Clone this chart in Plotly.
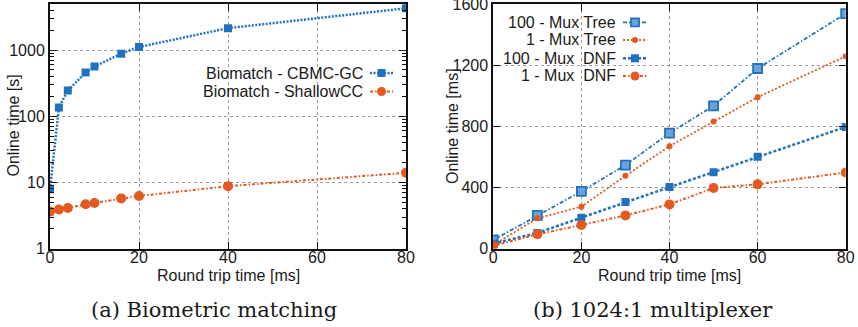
import plotly.graph_objects as go

# ---------------- data ----------------
bio_rtt = [0, 2, 4, 8, 10, 16, 20, 40, 80]
bio_cbmc = [7.9, 136, 245, 457, 562, 880, 1110, 2140, 4270]
bio_shallow = [3.63, 3.9, 4.12, 4.68, 4.9, 5.75, 6.25, 8.8, 14.0]

mux_rtt = [0, 10, 20, 30, 40, 50, 60, 80]
mux_tree_100 = [57, 218, 375, 547, 756, 935, 1179, 1538]
mux_tree_1 = [25, 199, 275, 477, 671, 833, 991, 1259]
mux_dnf_100 = [33, 103, 203, 305, 403, 501, 601, 797]
mux_dnf_1 = [20, 94, 155, 218, 290, 397, 421, 499]

left_xticks = [0, 20, 40, 60, 80]
left_yticks = [1, 10, 100, 1000]
right_xticks = [0, 20, 40, 60, 80]
right_yticks = [0, 400, 800, 1200, 1600]

BLUE = "#2171c1"
ORANGE = "#e3591f"
W, H = 858, 327
FONT = "Liberation Sans"
TXT = "#1a1a1a"

def px(x):
    return x / W

def py(y):
    return 1 - y / H

minor_log = [m * d for d in (1, 10, 100, 1000) for m in range(2, 10) if m * d < 5000]

fig = go.Figure()

# left panel
fig.add_trace(go.Scatter(x=bio_rtt, y=bio_cbmc, xaxis="x", yaxis="y", mode="lines+markers",
                         line=dict(color=BLUE, width=2.5, dash="2px,1.5px"),
                         marker=dict(symbol="square", size=8, color=BLUE), showlegend=False))
fig.add_trace(go.Scatter(x=bio_rtt, y=bio_shallow, xaxis="x", yaxis="y", mode="lines+markers",
                         line=dict(color=ORANGE, width=2, dash="3px,2px,1.5px,2px"),
                         marker=dict(symbol="circle", size=10, color=ORANGE), showlegend=False))

# right panel
fig.add_trace(go.Scatter(x=mux_rtt, y=mux_tree_100, xaxis="x2", yaxis="y2", mode="lines+markers",
                         line=dict(color=BLUE, width=1.8, dash="4px,2px,1.5px,2px"),
                         marker=dict(symbol="square", size=9, color="#6aa2da", line=dict(color=BLUE, width=1.8)),
                         showlegend=False))
fig.add_trace(go.Scatter(x=mux_rtt, y=mux_tree_1, xaxis="x2", yaxis="y2", mode="lines+markers",
                         line=dict(color=ORANGE, width=1.8, dash="2px,2px"),
                         marker=dict(symbol="circle", size=6, color=ORANGE), showlegend=False))
fig.add_trace(go.Scatter(x=mux_rtt, y=mux_dnf_100, xaxis="x2", yaxis="y2", mode="lines+markers",
                         line=dict(color=BLUE, width=2.5, dash="3px,2px"),
                         marker=dict(symbol="square", size=8, color=BLUE), showlegend=False))
fig.add_trace(go.Scatter(x=mux_rtt, y=mux_dnf_1, xaxis="x2", yaxis="y2", mode="lines+markers",
                         line=dict(color=ORANGE, width=2, dash="3px,2px,1.5px,2px"),
                         marker=dict(symbol="circle", size=10, color=ORANGE), showlegend=False))

grid = dict(showgrid=True, gridcolor="#9a9a9a", gridwidth=1, griddash="dot")
axcommon = dict(showline=True, linecolor="#111", linewidth=2, mirror="allticks",
                ticks="inside", ticklen=7, tickwidth=1, tickcolor="#111", automargin=False,
                ticklabeloverflow="allow",
                tickfont=dict(family=FONT, size=16, color=TXT), zeroline=False, **grid)

fig.update_layout(
    width=W, height=H, margin=dict(l=0, r=0, t=0, b=0, autoexpand=False),
    plot_bgcolor="white", paper_bgcolor="white",
    xaxis=dict(domain=[px(50), px(406)], range=[0, 80], tickvals=left_xticks, anchor="y",
               ticklabelstandoff=-7, **axcommon),
    yaxis=dict(domain=[py(248.7), py(4)], type="log", range=[0, 3.695], tickvals=left_yticks,
               anchor="x", minor=dict(tickmode="array", tickvals=minor_log, ticks="inside", ticklen=4,
                                      tickcolor="#111", showgrid=False),
               **axcommon),
    xaxis2=dict(domain=[px(493.3), px(845.7)], range=[0, 80], tickvals=right_xticks, anchor="y2",
                ticklabelstandoff=-7, **axcommon),
    yaxis2=dict(domain=[py(248.7), py(4)], range=[0, 1601], tickvals=right_yticks, anchor="x2", **axcommon),
)

ann = []
def text(x, y, s, size=16, family=FONT, angle=0, xanchor="center"):
    ann.append(dict(x=px(x), y=py(y), xref="paper", yref="paper", text=s, showarrow=False,
                    font=dict(family=family, size=size, color=TXT), textangle=angle,
                    xanchor=xanchor, yanchor="middle"))

text(12.5, 126, "Online time [s]", angle=-90)
text(452, 126, "Online time [ms]", angle=-90)
text(228, 275, "Round trip time [ms]")
text(669.5, 275, "Round trip time [ms]")
text(214, 310, "(a) Biometric matching", size=21, family="DejaVu Serif")
text(653, 310, "(b) 1024:1 multiplexer", size=21, family="DejaVu Serif")

shapes = []
def legend_entry(xr, x0, x1, y, label, color, dash, lw, symbol, msize, fill=None, mline=None):
    text(xr, y, label, xanchor="right")
    shapes.append(dict(type="line", xref="paper", yref="paper", x0=px(x0), x1=px(x1), y0=py(y), y1=py(y),
                       line=dict(color=color, width=lw, dash=dash)))
    xc = (x0 + x1) / 2
    h = msize / 2
    shapes.append(dict(type="rect" if symbol == "square" else "circle", xref="paper", yref="paper",
                       xsizemode="pixel", ysizemode="pixel", xanchor=px(xc), yanchor=py(y),
                       x0=-h, x1=h, y0=-h, y1=h, fillcolor=fill or color,
                       line=dict(color=mline or color, width=1.8 if mline else 0)))

legend_entry(365, 370, 393, 73, "Biomatch - CBMC-GC", BLUE, "2px,1.5px", 2.5, "square", 8)
legend_entry(365, 370, 393, 91.5, "Biomatch - ShallowCC", ORANGE, "3px,2px,1.5px,2px", 2, "circle", 9)

legend_entry(618, 623, 647, 22.3, "100 - Mux Tree", BLUE, "4px,2px,1.5px,2px", 1.8, "square", 8, fill="#6aa2da", mline=BLUE)
legend_entry(618, 623, 647, 40, "1 - Mux Tree", ORANGE, "2px,2px", 1.8, "circle", 6)
legend_entry(618, 623, 647, 58.3, "100 - Mux  DNF", BLUE, "3px,2px", 2.5, "square", 8)
legend_entry(618, 623, 647, 76, "1 - Mux  DNF", ORANGE, "3px,2px,1.5px,2px", 2, "circle", 9)

fig.update_layout(annotations=ann, shapes=shapes)
fig.write_html("out.html", config={"displayModeBar": False},
               post_script="document.body.style.margin='0';document.body.style.padding='0';")
